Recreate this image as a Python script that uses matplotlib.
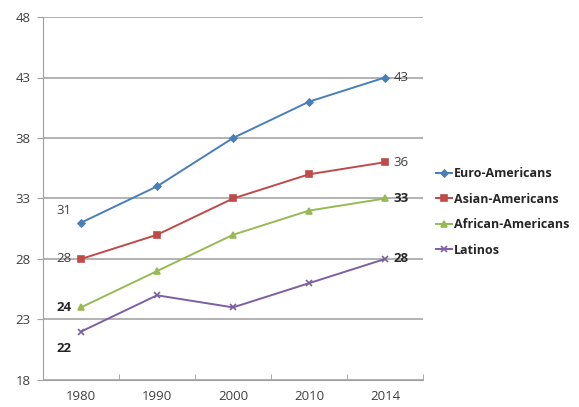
import matplotlib
matplotlib.use("Agg")
import matplotlib.pyplot as plt

years = ["1980", "1990", "2000", "2010", "2014"]
euro = [31, 34, 38, 41, 43]
asian = [28, 30, 33, 35, 36]
african = [24, 27, 30, 32, 33]
latinos = [22, 25, 24, 26, 28]
series_names = ["Euro-Americans", "Asian-Americans", "African-Americans", "Latinos"]
yticks = [18, 23, 28, 33, 38, 43, 48]

plt.rcParams['font.family'] = ['Open Sans', 'DejaVu Sans']

fig = plt.figure(figsize=(5.79, 4.07), dpi=100)
ax = fig.add_axes([43/579, 1-380/407, 380/579, 363/407])

x = list(range(len(years)))
colors = ["#4A7EBB", "#BE4B48", "#98B954", "#7D60A0"]
markers = ["D", "s", "^", "x"]
msizes = [3.5, 4.5, 4.5, 5]
for vals, name, c, m, ms in zip([euro, asian, african, latinos], series_names, colors, markers, msizes):
    ax.plot(x, vals, color=c, marker=m, markersize=ms, linewidth=1.4, label=name,
            markeredgewidth=1.2)

ax.set_xlim(-0.5, len(years) - 0.5)
ax.set_ylim(18, 48)
ax.set_yticks(yticks)
ax.set_yticklabels([str(v) for v in yticks])
ax.set_xticks(x)
ax.set_xticklabels(years)
ax.set_xticks([i + 0.5 for i in range(len(years))], minor=True)
ax.tick_params(axis='x', which='major', length=0, pad=7, labelsize=9.5, colors="#404040")
ax.tick_params(axis='x', which='minor', length=4, color="#A0A0A0", direction='in')
ax.tick_params(axis='y', length=4, direction='out', labelsize=9.5, pad=5)
ax.tick_params(axis='y', colors="#A0A0A0", labelcolor="#404040")
ax.grid(axis='y', color="#A6A6A6", linewidth=1.2)
ax.set_axisbelow(True)
for s in ["top", "right"]:
    ax.spines[s].set_visible(False)
for s in ["left", "bottom"]:
    ax.spines[s].set_color("#A0A0A0")

fs = 9.5
# data labels
ax.annotate(str(euro[0]), (0, euro[0]), xytext=(-7, 9), textcoords="offset points",
            ha="right", va="center", fontsize=fs, color="#404040")
ax.annotate(str(asian[0]), (0, asian[0]), xytext=(-7, 0), textcoords="offset points",
            ha="right", va="center", fontsize=fs, color="#404040")
ax.annotate(str(african[0]), (0, african[0]), xytext=(-7, 0), textcoords="offset points",
            ha="right", va="center", fontsize=fs, fontweight="bold", color="#262626")
ax.annotate(str(latinos[0]), (0, latinos[0]), xytext=(-7, -12), textcoords="offset points",
            ha="right", va="center", fontsize=fs, fontweight="bold", color="#262626")
ax.annotate(str(euro[-1]), (4, euro[-1]), xytext=(6, 0), textcoords="offset points",
            ha="left", va="center", fontsize=fs, color="#404040")
ax.annotate(str(asian[-1]), (4, asian[-1]), xytext=(6, 0), textcoords="offset points",
            ha="left", va="center", fontsize=fs, color="#404040")
ax.annotate(str(african[-1]), (4, african[-1]), xytext=(6, 0), textcoords="offset points",
            ha="left", va="center", fontsize=fs, fontweight="bold", color="#262626")
ax.annotate(str(latinos[-1]), (4, latinos[-1]), xytext=(6, 0), textcoords="offset points",
            ha="left", va="center", fontsize=fs, fontweight="bold", color="#262626")

leg = fig.legend(loc="upper left", bbox_to_anchor=(431/579, 1-162/407), frameon=False,
                 prop={"weight": "bold", "size": 9}, handlelength=1.3, handletextpad=0.15,
                 labelspacing=1.0, borderaxespad=0)
for t in leg.get_texts():
    t.set_color("#262626")

fig.savefig("out.png", dpi=100)
